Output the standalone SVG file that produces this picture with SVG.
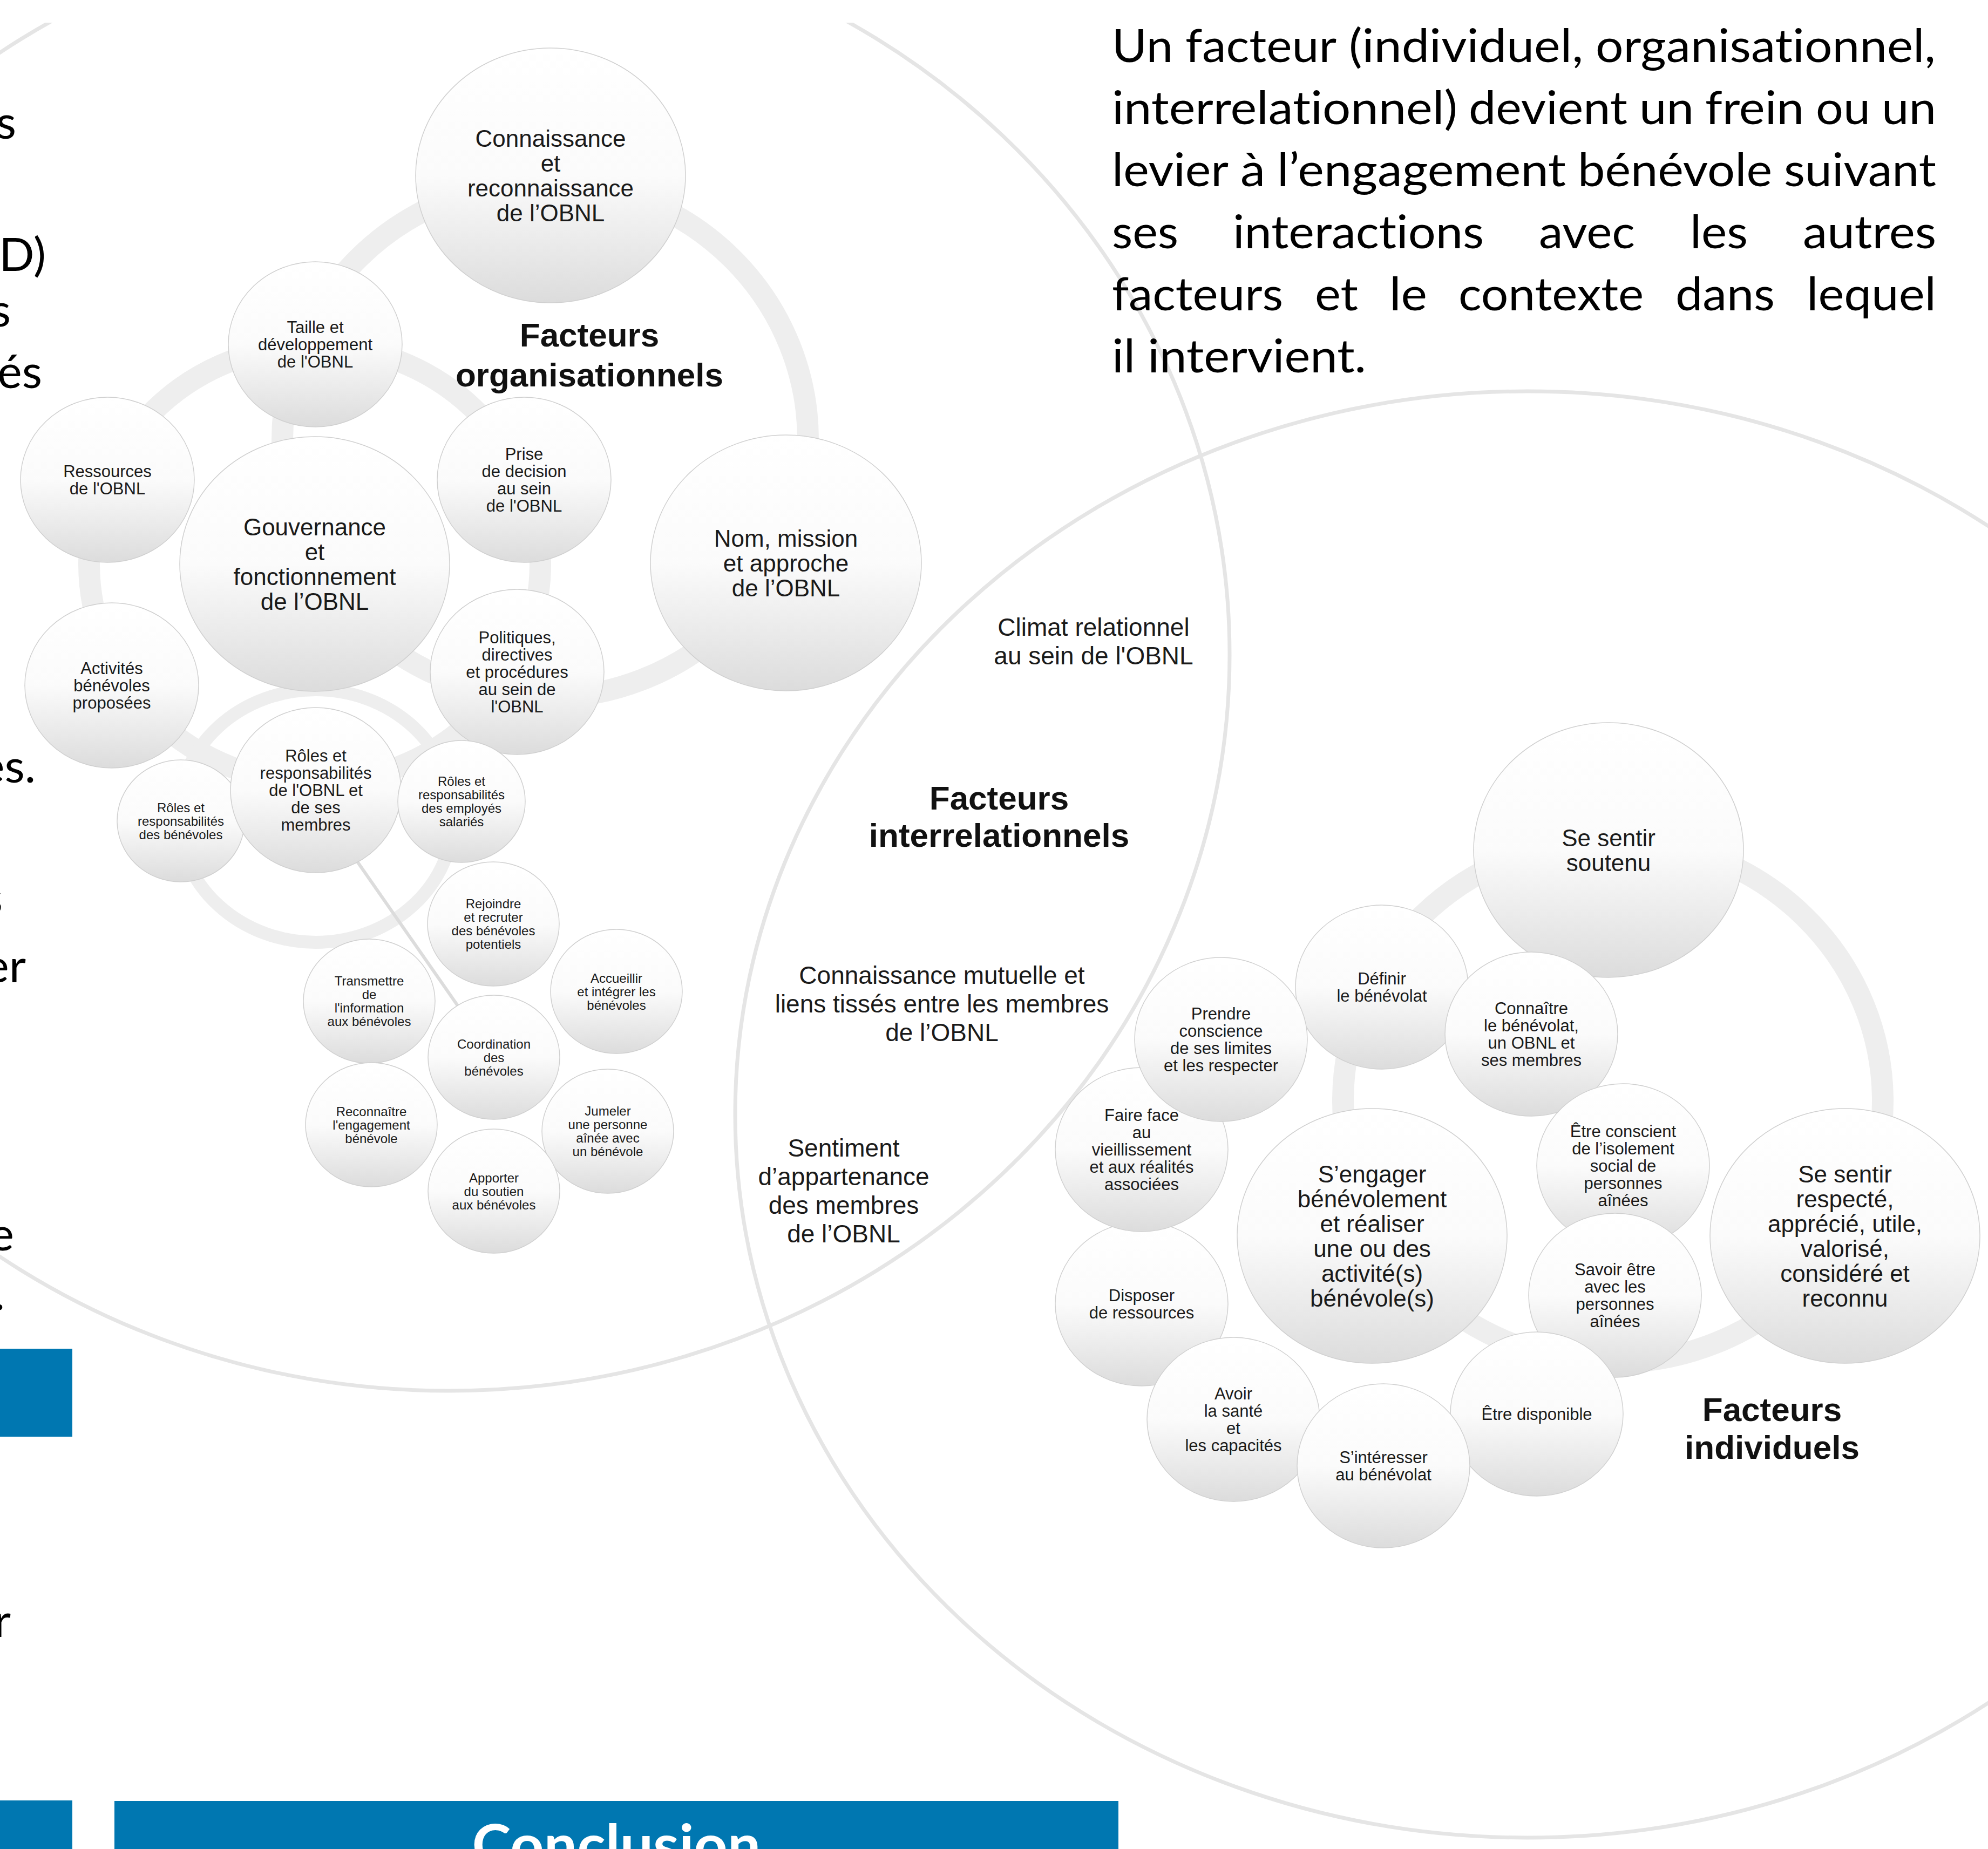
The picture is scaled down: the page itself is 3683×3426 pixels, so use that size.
<svg xmlns="http://www.w3.org/2000/svg" width="3683" height="3426" viewBox="0 0 3683 3426">
<defs>
<linearGradient id="gb" x1="0" y1="0" x2="0" y2="1">
<stop offset="0" stop-color="#ffffff"/>
<stop offset="0.5" stop-color="#fbfbfb"/>
<stop offset="1" stop-color="#dcdcdc"/>
</linearGradient>
<clipPath id="clipD"><rect x="0" y="42" width="3683" height="3384"/></clipPath>
<style>
.b{fill:url(#gb);stroke:#d0d0d0;stroke-width:1.5}
.tB,.tM,.tS,.tI{font-family:"Liberation Sans",Arial,sans-serif;fill:#1a1a1a;text-anchor:middle}
.tB{font-size:44px}
.tM{font-size:31px}
.tS{font-size:24px}
.tI{font-size:46px}
.h{font-family:"Liberation Sans",Arial,sans-serif;font-weight:bold;font-size:62px;fill:#111;text-anchor:middle}
.p,.pe{font-family:Lato,"Liberation Sans",sans-serif;font-size:86px;fill:#000;font-variant-ligatures:none}
.pe{text-anchor:end}
.band{fill:none;stroke:#eeeeee;stroke-width:40}
.venn{fill:none;stroke:#e5e5e5;stroke-width:7}
.blue{fill:#0077b1}
</style>
</defs>
<rect x="0" y="0" width="3683" height="3426" fill="#ffffff"/>

<g id="venn" clip-path="url(#clipD)">
<ellipse class="venn" cx="832" cy="1213" rx="1446" ry="1364"/>
<ellipse class="venn" cx="2830" cy="2065" rx="1468" ry="1340"/>
</g>

<g id="connectors">
<ellipse class="band" cx="1010" cy="815" rx="487" ry="478"/>
<ellipse class="band" cx="583" cy="1045" rx="418" ry="405"/>
<ellipse class="band" cx="585" cy="1512" rx="255" ry="234" style="stroke-width:24"/>
<line x1="640" y1="1565" x2="870" y2="1895" stroke="#dcdcdc" stroke-width="6"/>
<ellipse class="band" cx="2988" cy="2040" rx="500" ry="485"/>
</g>

<g id="labels">
<text class="h" x="1092" y="642">Facteurs</text>
<text class="h" x="1092" y="716">organisationnels</text>
<text class="h" x="1851" y="1500">Facteurs</text>
<text class="h" x="1851" y="1569">interrelationnels</text>
<text class="h" x="3283" y="2633">Facteurs</text>
<text class="h" x="3283" y="2703">individuels</text>
<text class="tI" x="2026" y="1178"><tspan x="2026">Climat relationnel</tspan><tspan x="2026" dy="53">au sein de l'OBNL</tspan></text>
<text class="tI" x="1745" y="1823"><tspan x="1745">Connaissance mutuelle et</tspan><tspan x="1745" dy="53">liens tissés entre les membres</tspan><tspan x="1745" dy="53">de l’OBNL</tspan></text>
<text class="tI" x="1563" y="2143"><tspan x="1563">Sentiment</tspan><tspan x="1563" dy="53">d’appartenance</tspan><tspan x="1563" dy="53">des membres</tspan><tspan x="1563" dy="53">de l’OBNL</tspan></text>
</g>

<g id="n-connaissance"><ellipse class="b" cx="1020" cy="325" rx="250" ry="236"/><text class="tB" y="271.5"><tspan x="1020">Connaissance</tspan><tspan x="1020" dy="46">et</tspan><tspan x="1020" dy="46">reconnaissance</tspan><tspan x="1020" dy="46">de l’OBNL</tspan></text></g>
<g id="n-nom"><ellipse class="b" cx="1456" cy="1043" rx="251" ry="237"/><text class="tB" y="1012.5"><tspan x="1456">Nom, mission</tspan><tspan x="1456" dy="46">et approche</tspan><tspan x="1456" dy="46">de l’OBNL</tspan></text></g>
<g id="n-gouvernance"><ellipse class="b" cx="583" cy="1045" rx="250" ry="236"/><text class="tB" y="991.5"><tspan x="583">Gouvernance</tspan><tspan x="583" dy="46">et</tspan><tspan x="583" dy="46">fonctionnement</tspan><tspan x="583" dy="46">de l’OBNL</tspan></text></g>
<g id="n-taille"><ellipse class="b" cx="584" cy="638" rx="161" ry="153"/><text class="tM" y="617"><tspan x="584">Taille et</tspan><tspan x="584" dy="32">développement</tspan><tspan x="584" dy="32">de l'OBNL</tspan></text></g>
<g id="n-ressources"><ellipse class="b" cx="199" cy="889" rx="161" ry="153"/><text class="tM" y="884"><tspan x="199">Ressources</tspan><tspan x="199" dy="32">de l'OBNL</tspan></text></g>
<g id="n-prise"><ellipse class="b" cx="971" cy="889" rx="161" ry="153"/><text class="tM" y="852"><tspan x="971">Prise</tspan><tspan x="971" dy="32">de decision</tspan><tspan x="971" dy="32">au sein</tspan><tspan x="971" dy="32">de l'OBNL</tspan></text></g>
<g id="n-activites"><ellipse class="b" cx="207" cy="1270" rx="161" ry="153"/><text class="tM" y="1249"><tspan x="207">Activités</tspan><tspan x="207" dy="32">bénévoles</tspan><tspan x="207" dy="32">proposées</tspan></text></g>
<g id="n-politiques"><ellipse class="b" cx="958" cy="1245" rx="161" ry="153"/><text class="tM" y="1192"><tspan x="958">Politiques,</tspan><tspan x="958" dy="32">directives</tspan><tspan x="958" dy="32">et procédures</tspan><tspan x="958" dy="32">au sein de</tspan><tspan x="958" dy="32">l'OBNL</tspan></text></g>
<g id="n-roles-benevoles"><ellipse class="b" cx="335" cy="1521" rx="118" ry="113"/><text class="tS" y="1504.5"><tspan x="335">Rôles et</tspan><tspan x="335" dy="25">responsabilités</tspan><tspan x="335" dy="25">des bénévoles</tspan></text></g>
<g id="n-roles-obnl"><ellipse class="b" cx="585" cy="1464" rx="158" ry="153"/><text class="tM" y="1411"><tspan x="585">Rôles et</tspan><tspan x="585" dy="32">responsabilités</tspan><tspan x="585" dy="32">de l'OBNL et</tspan><tspan x="585" dy="32">de ses</tspan><tspan x="585" dy="32">membres</tspan></text></g>
<g id="n-roles-employes"><ellipse class="b" cx="855" cy="1485" rx="118" ry="113"/><text class="tS" y="1456"><tspan x="855">Rôles et</tspan><tspan x="855" dy="25">responsabilités</tspan><tspan x="855" dy="25">des employés</tspan><tspan x="855" dy="25">salariés</tspan></text></g>
<g id="n-rejoindre"><ellipse class="b" cx="914" cy="1712" rx="122" ry="115"/><text class="tS" y="1683"><tspan x="914">Rejoindre</tspan><tspan x="914" dy="25">et recruter</tspan><tspan x="914" dy="25">des bénévoles</tspan><tspan x="914" dy="25">potentiels</tspan></text></g>
<g id="n-transmettre"><ellipse class="b" cx="684" cy="1855" rx="122" ry="115"/><text class="tS" y="1826"><tspan x="684">Transmettre</tspan><tspan x="684" dy="25">de</tspan><tspan x="684" dy="25">l'information</tspan><tspan x="684" dy="25">aux bénévoles</tspan></text></g>
<g id="n-accueillir"><ellipse class="b" cx="1142" cy="1837" rx="122" ry="115"/><text class="tS" y="1820.5"><tspan x="1142">Accueillir</tspan><tspan x="1142" dy="25">et intégrer les</tspan><tspan x="1142" dy="25">bénévoles</tspan></text></g>
<g id="n-coordination"><ellipse class="b" cx="915" cy="1959" rx="122" ry="115"/><text class="tS" y="1942.5"><tspan x="915">Coordination</tspan><tspan x="915" dy="25">des</tspan><tspan x="915" dy="25">bénévoles</tspan></text></g>
<g id="n-reconnaitre"><ellipse class="b" cx="688" cy="2084" rx="122" ry="115"/><text class="tS" y="2067.5"><tspan x="688">Reconnaître</tspan><tspan x="688" dy="25">l'engagement</tspan><tspan x="688" dy="25">bénévole</tspan></text></g>
<g id="n-jumeler"><ellipse class="b" cx="1126" cy="2096" rx="122" ry="115"/><text class="tS" y="2067"><tspan x="1126">Jumeler</tspan><tspan x="1126" dy="25">une personne</tspan><tspan x="1126" dy="25">aînée avec</tspan><tspan x="1126" dy="25">un bénévole</tspan></text></g>
<g id="n-apporter"><ellipse class="b" cx="915" cy="2207" rx="122" ry="115"/><text class="tS" y="2190.5"><tspan x="915">Apporter</tspan><tspan x="915" dy="25">du soutien</tspan><tspan x="915" dy="25">aux bénévoles</tspan></text></g>

<g id="n-soutenu"><ellipse class="b" cx="2980" cy="1575" rx="250" ry="236"/><text class="tB" y="1567.5"><tspan x="2980">Se sentir</tspan><tspan x="2980" dy="46">soutenu</tspan></text></g>
<g id="n-respecte"><ellipse class="b" cx="3418" cy="2290" rx="250" ry="236"/><text class="tB" y="2190.5"><tspan x="3418">Se sentir</tspan><tspan x="3418" dy="46">respecté,</tspan><tspan x="3418" dy="46">apprécié, utile,</tspan><tspan x="3418" dy="46">valorisé,</tspan><tspan x="3418" dy="46">considéré et</tspan><tspan x="3418" dy="46">reconnu</tspan></text></g>
<g id="n-engager"><ellipse class="b" cx="2542" cy="2290" rx="250" ry="236"/><text class="tB" y="2190.5"><tspan x="2542">S’engager</tspan><tspan x="2542" dy="46">bénévolement</tspan><tspan x="2542" dy="46">et réaliser</tspan><tspan x="2542" dy="46">une ou des</tspan><tspan x="2542" dy="46">activité(s)</tspan><tspan x="2542" dy="46">bénévole(s)</tspan></text></g>
<g id="n-definir"><ellipse class="b" cx="2560" cy="1829" rx="160" ry="152"/><text class="tM" y="1824"><tspan x="2560">Définir</tspan><tspan x="2560" dy="32">le bénévolat</tspan></text></g>
<g id="n-connaitre"><ellipse class="b" cx="2837" cy="1916" rx="160" ry="152"/><text class="tM" y="1879"><tspan x="2837">Connaître</tspan><tspan x="2837" dy="32">le bénévolat,</tspan><tspan x="2837" dy="32">un OBNL et</tspan><tspan x="2837" dy="32">ses membres</tspan></text></g>
<g id="n-disposer"><ellipse class="b" cx="2115" cy="2416" rx="160" ry="152"/><text class="tM" y="2411"><tspan x="2115">Disposer</tspan><tspan x="2115" dy="32">de ressources</tspan></text></g>
<g id="n-faireface"><ellipse class="b" cx="2115" cy="2130" rx="160" ry="152"/><text class="tM" y="2077"><tspan x="2115">Faire face</tspan><tspan x="2115" dy="32">au</tspan><tspan x="2115" dy="32">vieillissement</tspan><tspan x="2115" dy="32">et aux réalités</tspan><tspan x="2115" dy="32">associées</tspan></text></g>
<g id="n-prendre"><ellipse class="b" cx="2262" cy="1926" rx="160" ry="152"/><text class="tM" y="1889"><tspan x="2262">Prendre</tspan><tspan x="2262" dy="32">conscience</tspan><tspan x="2262" dy="32">de ses limites</tspan><tspan x="2262" dy="32">et les respecter</tspan></text></g>
<g id="n-conscient"><ellipse class="b" cx="3007" cy="2160" rx="160" ry="152"/><text class="tM" y="2107"><tspan x="3007">Être conscient</tspan><tspan x="3007" dy="32">de l’isolement</tspan><tspan x="3007" dy="32">social de</tspan><tspan x="3007" dy="32">personnes</tspan><tspan x="3007" dy="32">aînées</tspan></text></g>
<g id="n-savoir"><ellipse class="b" cx="2992" cy="2400" rx="160" ry="152"/><text class="tM" y="2363"><tspan x="2992">Savoir être</tspan><tspan x="2992" dy="32">avec les</tspan><tspan x="2992" dy="32">personnes</tspan><tspan x="2992" dy="32">aînées</tspan></text></g>
<g id="n-disponible"><ellipse class="b" cx="2847" cy="2620" rx="160" ry="152"/><text class="tM" x="2847" y="2631">Être disponible</text></g>
<g id="n-avoir"><ellipse class="b" cx="2285" cy="2630" rx="160" ry="152"/><text class="tM" y="2593"><tspan x="2285">Avoir</tspan><tspan x="2285" dy="32">la santé</tspan><tspan x="2285" dy="32">et</tspan><tspan x="2285" dy="32">les capacités</tspan></text></g>
<g id="n-interesser"><ellipse class="b" cx="2563" cy="2716" rx="160" ry="152"/><text class="tM" y="2711"><tspan x="2563">S’intéresser</tspan><tspan x="2563" dy="32">au bénévolat</tspan></text></g>

<g id="paragraph">
<text class="p" x="2060" y="115" textLength="113" lengthAdjust="spacingAndGlyphs">Un</text>
<text class="p" x="2196" y="115" textLength="280" lengthAdjust="spacingAndGlyphs">facteur</text>
<text class="p" x="2499" y="115" textLength="434" lengthAdjust="spacingAndGlyphs">(individuel,</text>
<text class="p" x="2956" y="115" textLength="630" lengthAdjust="spacingAndGlyphs">organisationnel,</text>
<text class="p" x="2060" y="230" textLength="640" lengthAdjust="spacingAndGlyphs">interrelationnel)</text>
<text class="p" x="2721" y="230" textLength="294" lengthAdjust="spacingAndGlyphs">devient</text>
<text class="p" x="3037" y="230" textLength="101" lengthAdjust="spacingAndGlyphs">un</text>
<text class="p" x="3159" y="230" textLength="183" lengthAdjust="spacingAndGlyphs">frein</text>
<text class="p" x="3364" y="230" textLength="101" lengthAdjust="spacingAndGlyphs">ou</text>
<text class="p" x="3486" y="230" textLength="101" lengthAdjust="spacingAndGlyphs">un</text>
<text class="p" x="2060" y="345" textLength="216" lengthAdjust="spacingAndGlyphs">levier</text>
<text class="p" x="2298" y="345" textLength="46" lengthAdjust="spacingAndGlyphs">à</text>
<text class="p" x="2366" y="345" textLength="535" lengthAdjust="spacingAndGlyphs">l’engagement</text>
<text class="p" x="2923" y="345" textLength="360" lengthAdjust="spacingAndGlyphs">bénévole</text>
<text class="p" x="3305" y="345" textLength="282" lengthAdjust="spacingAndGlyphs">suivant</text>
<text class="p" x="2060" y="460" textLength="123" lengthAdjust="spacingAndGlyphs">ses</text>
<text class="p" x="2284" y="460" textLength="465" lengthAdjust="spacingAndGlyphs">interactions</text>
<text class="p" x="2851" y="460" textLength="178" lengthAdjust="spacingAndGlyphs">avec</text>
<text class="p" x="3131" y="460" textLength="107" lengthAdjust="spacingAndGlyphs">les</text>
<text class="p" x="3340" y="460" textLength="247" lengthAdjust="spacingAndGlyphs">autres</text>
<text class="p" x="2060" y="575" textLength="317" lengthAdjust="spacingAndGlyphs">facteurs</text>
<text class="p" x="2436" y="575" textLength="80" lengthAdjust="spacingAndGlyphs">et</text>
<text class="p" x="2574" y="575" textLength="70" lengthAdjust="spacingAndGlyphs">le</text>
<text class="p" x="2702" y="575" textLength="343" lengthAdjust="spacingAndGlyphs">contexte</text>
<text class="p" x="3104" y="575" textLength="184" lengthAdjust="spacingAndGlyphs">dans</text>
<text class="p" x="3347" y="575" textLength="240" lengthAdjust="spacingAndGlyphs">lequel</text>
<text class="p" x="2060" y="690" textLength="471" lengthAdjust="spacingAndGlyphs">il intervient.</text>
</g>

<g id="left-text">
<text class="pe" x="30" y="257">s</text>
<text class="pe" x="85" y="502">D)</text>
<text class="pe" x="20" y="605">s</text>
<text class="pe" x="78" y="719">és</text>
<text class="pe" x="66" y="1450">es.</text>
<text class="pe" x="5" y="1694">s</text>
<text class="pe" x="48" y="1820">er</text>
<text class="pe" x="26" y="2317">e</text>
<text class="pe" x="9" y="2427">.</text>
<text class="pe" x="20" y="3033">r</text>
</g>

<g id="bars">
<rect class="blue" x="0" y="2499" width="134" height="163"/>
<rect class="blue" x="0" y="3336" width="134" height="90"/>
<rect class="blue" x="212" y="3337" width="1860" height="89"/>
<text x="1142" y="3456" font-family="Lato, 'Liberation Sans', sans-serif" font-weight="bold" font-size="106" fill="#ffffff" text-anchor="middle" textLength="535" lengthAdjust="spacingAndGlyphs">Conclusion</text>
</g>
</svg>
